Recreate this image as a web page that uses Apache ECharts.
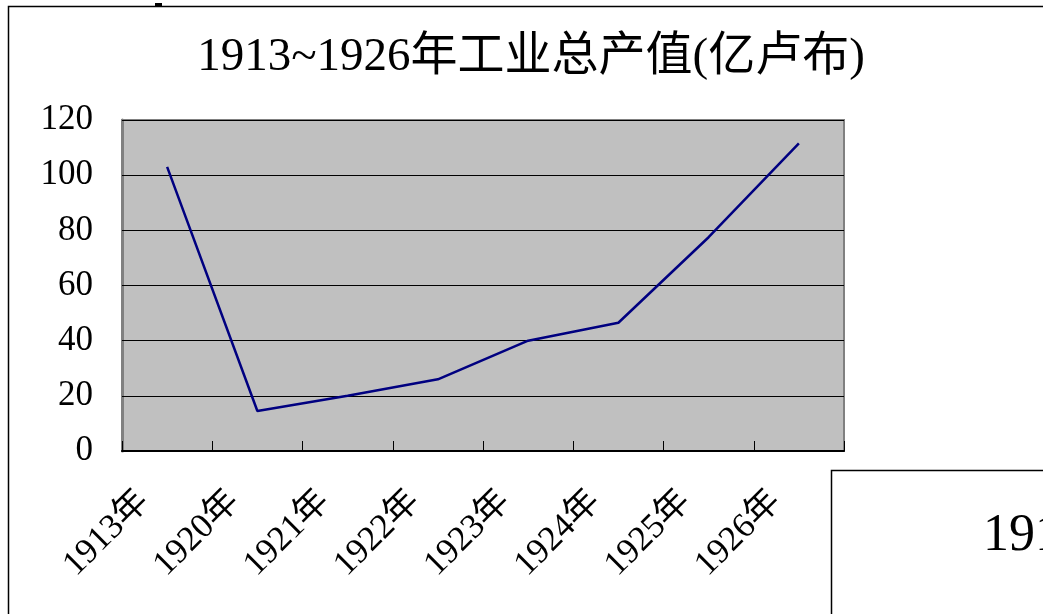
<!DOCTYPE html>
<html>
<head>
<meta charset="utf-8">
<title>1913~1926年工业总产值</title>
<script src="https://cdn.jsdelivr.net/npm/echarts@6/dist/echarts.min.js"></script>
<style>
  html, body { margin: 0; padding: 0; background: #fff; }
  #chart { width: 1043px; height: 614px; }
</style>
</head>
<body>
<div id="chart"></div>
<script>
// 年份（横轴类目）
const years = ['1913年', '1920年', '1921年', '1922年', '1923年', '1924年', '1925年', '1926年'];
// 工业总产值（亿卢布）
const output = [103, 14.5, 20, 26, 40, 46.5, 77.5, 111.5];
// 纵轴刻度
const yMin = 0;
const yMax = 120;
const yStep = 20;

const serif = "'Liberation Serif', 'Noto Sans CJK SC', serif";

const chart = echarts.init(document.getElementById('chart'), null, {renderer: 'canvas'});

chart.setOption({
    backgroundColor: '#fff',
    animation: false,
    title: {
        text: '1913~1926年工业总产值(亿卢布)',
        left: 526,
        top: 29,
        textAlign: 'center',
        textStyle: {
            fontFamily: serif,
            fontSize: 47,
            fontWeight: 'normal',
            color: '#000'
        }
    },
    grid: {
        left: 122,
        right: 199,
        top: 120,
        bottom: 163,
        show: true,
        backgroundColor: '#c0c0c0',
        borderColor: '#808080',
        borderWidth: 2
    },
    xAxis: {
        type: 'category',
        data: years,
        boundaryGap: true,
        z: 5,
        axisLine: {show: true, lineStyle: {color: '#000', width: 2}},
        axisTick: {show: true, inside: true, length: 10, interval: 0, lineStyle: {color: '#000', width: 1}},
        axisLabel: {
            rotate: 45,
            interval: 0,
            margin: 22,
            padding: [0, 33, 0, 0],
            fontFamily: serif,
            fontSize: 35,
            color: '#000'
        }
    },
    yAxis: {
        type: 'value',
        min: yMin,
        max: yMax,
        interval: yStep,
        axisLine: {show: true, lineStyle: {color: '#808080', width: 3}},
        axisTick: {show: true, inside: true, length: 10, lineStyle: {color: '#000', width: 1}},
        axisLabel: {
            margin: 29,
            padding: [7, 0, 0, 0],
            fontFamily: serif,
            fontSize: 35,
            color: '#000'
        },
        splitLine: {show: true, lineStyle: {color: '#000', width: 1}}
    },
    series: [{
        type: 'line',
        data: output,
        showSymbol: false,
        symbol: 'none',
        lineStyle: {color: '#000080', width: 2.5}
    }],
    graphic: [
        // 外框（延伸出画面右、下）
        {
            type: 'rect',
            shape: {x: 8.5, y: 6.5, width: 1100, height: 700},
            style: {fill: null, stroke: '#000', lineWidth: 1.5},
            silent: true,
            z: -1
        },
        {
            type: 'rect',
            shape: {x: 155, y: 3, width: 7, height: 3},
            style: {fill: '#000'},
            silent: true
        },
        // 右下角另一张图的边框
        {
            type: 'rect',
            shape: {x: 831.5, y: 470.5, width: 400, height: 300},
            style: {fill: '#fff', stroke: '#000', lineWidth: 1.5},
            silent: true
        },
        {
            type: 'text',
            left: 983,
            top: 510,
            style: {
                text: '1913',
                font: "52px 'Liberation Serif', serif",
                fill: '#000'
            },
            silent: true
        }
    ]
});
</script>
</body>
</html>
